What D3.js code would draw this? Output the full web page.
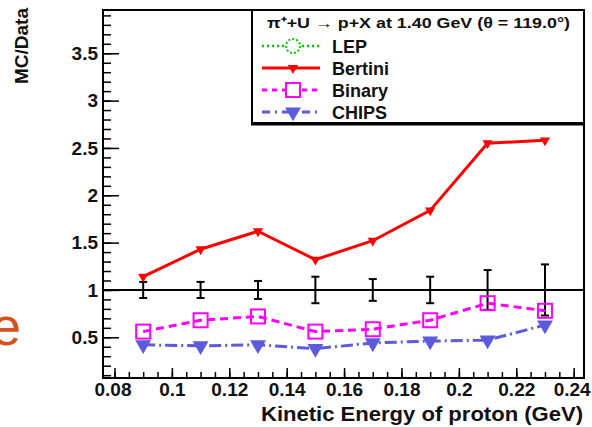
<!DOCTYPE html>
<html>
<head>
<meta charset="utf-8">
<script src="https://cdn.jsdelivr.net/npm/d3@7"></script>
<style>
  body { margin: 0; background: #fff; }
  svg { display: block; }
  text { font-family: "Liberation Sans", Arial, sans-serif; }
</style>
</head>
<body>
<div id="chart"></div>
<script>
// chart size
var width = 592,
    height = 427;

// data
var energy = [0.09, 0.11, 0.13, 0.15, 0.17, 0.19, 0.21, 0.23];
var bertini = [1.14, 1.43, 1.62, 1.32, 1.52, 1.84, 2.55, 2.58];
var binary = [0.56, 0.68, 0.72, 0.56, 0.585, 0.68, 0.86, 0.78];
var chips = [0.42, 0.41, 0.42, 0.38, 0.44, 0.46, 0.47, 0.63];
var dataErr = [0.085, 0.085, 0.095, 0.14, 0.115, 0.14, 0.21, 0.27];

var xTicks = [0.08, 0.10, 0.12, 0.14, 0.16, 0.18, 0.20, 0.22, 0.24];
var xTickLabels = ["0.08", "0.1", "0.12", "0.14", "0.16", "0.18", "0.2", "0.22", "0.24"];
var yTicks = [0.5, 1, 1.5, 2, 2.5, 3, 3.5];
var yTickLabels = ["0.5", "1", "1.5", "2", "2.5", "3", "3.5"];

var legendTitle = "\u03c0\u207a+U \u2192 p+X at 1.40 GeV (\u03b8 = 119.0\u00b0)";
var legendNames = ["LEP", "Bertini", "Binary", "CHIPS"];

var frame = {left: 103, right: 584, top: 10, bottom: 378};

var x = d3.scaleLinear().domain([0.076, 0.2436]).range([frame.left, frame.right]);
var y = d3.scaleLinear().domain([0.07, 3.957]).range([frame.bottom, frame.top]);

var svg = d3.select("#chart").append("svg")
    .attr("width", width)
    .attr("height", height);

// the cut-off slide letter on the left
svg.append("text")
    .attr("x", 21)
    .attr("y", 345)
    .attr("text-anchor", "end")
    .style("font-size", "54px")
    .style("fill", "#d4501c")
    .text("e");

// minor ticks
var xMinor = d3.range(0.08, 0.2436, 0.005).map(function(d) { return +d.toFixed(3); });
var yMinor = d3.range(0.1, 3.95, 0.1).map(function(d) { return +d.toFixed(2); });

svg.append("g")
    .attr("transform", "translate(0," + frame.bottom + ")")
    .call(d3.axisBottom(x).tickValues(xMinor).tickSize(-6).tickFormat(""))
    .call(function(g) { g.select(".domain").remove(); })
    .selectAll("line").attr("stroke-width", 1.5);

svg.append("g")
    .attr("transform", "translate(" + frame.left + ",0)")
    .call(d3.axisLeft(y).tickValues(yMinor).tickSize(-8).tickFormat(""))
    .call(function(g) { g.select(".domain").remove(); })
    .selectAll("line").attr("stroke-width", 1.5);

// major ticks + labels
var xAxis = svg.append("g")
    .attr("transform", "translate(0," + frame.bottom + ")")
    .call(d3.axisBottom(x).tickValues(xTicks).tickSize(-10).tickPadding(5)
      .tickFormat(function(d, i) { return xTickLabels[i]; }));
xAxis.select(".domain").remove();
xAxis.selectAll("line").attr("stroke-width", 1.5);
xAxis.selectAll("text")
    .style("font-size", "19px")
    .style("font-weight", "bold")
    .style("font-family", "'Liberation Sans', Arial, sans-serif")
    .attr("fill", "#111");
xAxis.selectAll(".tick").filter(function(d) { return d === 0.08; }).select("text").attr("dx", -2);
xAxis.selectAll(".tick").filter(function(d) { return d === 0.24; }).select("text").attr("dx", -2);

var yAxis = svg.append("g")
    .attr("transform", "translate(" + frame.left + ",0)")
    .call(d3.axisLeft(y).tickValues(yTicks).tickSize(-16).tickPadding(5)
      .tickFormat(function(d, i) { return yTickLabels[i]; }));
yAxis.select(".domain").remove();
yAxis.selectAll("line").attr("stroke-width", 1.5);
yAxis.selectAll("text")
    .style("font-size", "19px")
    .style("font-weight", "bold")
    .style("font-family", "'Liberation Sans', Arial, sans-serif")
    .attr("fill", "#111");

// frame
svg.append("rect")
    .attr("x", frame.left)
    .attr("y", frame.top)
    .attr("width", frame.right - frame.left)
    .attr("height", frame.bottom - frame.top)
    .attr("fill", "none")
    .attr("stroke", "#000")
    .attr("stroke-width", 2);

// axis titles
svg.append("text")
    .attr("transform", "translate(28,8) rotate(-90)")
    .attr("text-anchor", "end")
    .style("font-size", "19px")
    .style("font-weight", "bold")
    .attr("fill", "#111")
    .text("MC/Data");

svg.append("text")
    .attr("x", 583)
    .attr("y", 421)
    .attr("text-anchor", "end")
    .attr("textLength", 322)
    .attr("lengthAdjust", "spacingAndGlyphs")
    .style("font-size", "21px")
    .style("font-weight", "bold")
    .attr("fill", "#111")
    .text("Kinetic Energy of proton (GeV)");

// reference line at 1
svg.append("line")
    .attr("x1", frame.left).attr("x2", frame.right)
    .attr("y1", y(1)).attr("y2", y(1))
    .attr("stroke", "#000")
    .attr("stroke-width", 2);

// data error bars
var eb = svg.append("g").attr("stroke", "#000").attr("stroke-width", 2);
energy.forEach(function(e, i) {
  var cx = x(e);
  eb.append("line").attr("x1", cx).attr("x2", cx)
      .attr("y1", y(1 + dataErr[i])).attr("y2", y(1 - dataErr[i]));
  eb.append("line").attr("x1", cx - 4).attr("x2", cx + 4)
      .attr("y1", y(1 + dataErr[i])).attr("y2", y(1 + dataErr[i]));
  eb.append("line").attr("x1", cx - 4).attr("x2", cx + 4)
      .attr("y1", y(1 - dataErr[i])).attr("y2", y(1 - dataErr[i]));
});

var line = d3.line()
    .x(function(d) { return x(d[0]); })
    .y(function(d) { return y(d[1]); });

function pairs(vals) {
  return energy.map(function(e, i) { return [e, vals[i]]; });
}

var triDown = d3.symbol().type(d3.symbolTriangle);

// CHIPS
svg.append("path")
    .attr("d", line(pairs(chips)))
    .attr("fill", "none")
    .attr("stroke", "#5b5bdc")
    .attr("stroke-width", 3)
    .attr("stroke-dasharray", "12,4,2,4");
svg.selectAll(".chips")
    .data(pairs(chips)).enter().append("path")
    .attr("class", "chips")
    .attr("d", triDown.size(110)())
    .attr("transform", function(d) { return "translate(" + x(d[0]) + "," + y(d[1]) + ") rotate(180)"; })
    .attr("fill", "#5b5bdc");

// Binary
svg.append("path")
    .attr("d", line(pairs(binary)))
    .attr("fill", "none")
    .attr("stroke", "#ff00ff")
    .attr("stroke-width", 3)
    .attr("stroke-dasharray", "8,5");
svg.selectAll(".binary")
    .data(pairs(binary)).enter().append("rect")
    .attr("class", "binary")
    .attr("x", function(d) { return x(d[0]) - 7; })
    .attr("y", function(d) { return y(d[1]) - 7; })
    .attr("width", 14)
    .attr("height", 14)
    .attr("fill", "#fff")
    .attr("fill-opacity", 0)
    .attr("stroke", "#ff00ff")
    .attr("stroke-width", 2);

// Bertini
svg.append("path")
    .attr("d", line(pairs(bertini)))
    .attr("fill", "none")
    .attr("stroke", "#ff0000")
    .attr("stroke-width", 3);
svg.selectAll(".bertini")
    .data(pairs(bertini)).enter().append("path")
    .attr("class", "bertini")
    .attr("d", triDown.size(45)())
    .attr("transform", function(d) { return "translate(" + x(d[0]) + "," + y(d[1]) + ") rotate(180)"; })
    .attr("fill", "#ff0000");

// legend
var lg = svg.append("g");
lg.append("rect")
    .attr("x", 252).attr("y", 10)
    .attr("width", 332).attr("height", 113)
    .attr("fill", "#fff")
    .attr("stroke", "#000")
    .attr("stroke-width", 2);
lg.append("line")
    .attr("x1", 251).attr("x2", 584)
    .attr("y1", 124.5).attr("y2", 124.5)
    .attr("stroke", "#000").attr("stroke-width", 2);

lg.append("text")
    .attr("x", 267)
    .attr("y", 28)
    .attr("textLength", 303)
    .attr("lengthAdjust", "spacingAndGlyphs")
    .style("font-size", "15px")
    .style("font-weight", "bold")
    .attr("fill", "#111")
    .text(legendTitle);

var rowY = [46, 68, 90, 112];
var lx0 = 262, lx1 = 320, lmx = 293;

// LEP
lg.append("line").attr("x1", lx0).attr("x2", lx1).attr("y1", rowY[0]).attr("y2", rowY[0])
    .attr("stroke", "#00cc00").attr("stroke-width", 2.5).attr("stroke-dasharray", "2,3");
lg.append("circle").attr("cx", lmx).attr("cy", rowY[0]).attr("r", 7)
    .attr("fill", "#fff").attr("stroke", "#00cc00").attr("stroke-width", 2).attr("stroke-dasharray", "2,2");
// Bertini
lg.append("line").attr("x1", lx0).attr("x2", lx1).attr("y1", rowY[1]).attr("y2", rowY[1])
    .attr("stroke", "#ff0000").attr("stroke-width", 3);
lg.append("path").attr("d", triDown.size(45)())
    .attr("transform", "translate(" + lmx + "," + rowY[1] + ") rotate(180)")
    .attr("fill", "#ff0000");
// Binary
lg.append("line").attr("x1", lx0).attr("x2", lx1).attr("y1", rowY[2]).attr("y2", rowY[2])
    .attr("stroke", "#ff00ff").attr("stroke-width", 3).attr("stroke-dasharray", "5,5");
lg.append("rect").attr("x", lmx - 7).attr("y", rowY[2] - 7).attr("width", 14).attr("height", 14)
    .attr("fill", "#fff").attr("stroke", "#ff00ff").attr("stroke-width", 2);
// CHIPS
lg.append("line").attr("x1", lx0).attr("x2", lx1).attr("y1", rowY[3]).attr("y2", rowY[3])
    .attr("stroke", "#5b5bdc").attr("stroke-width", 3).attr("stroke-dasharray", "8,5,2,5");
lg.append("path").attr("d", triDown.size(110)())
    .attr("transform", "translate(" + lmx + "," + rowY[3] + ") rotate(180)")
    .attr("fill", "#5b5bdc");

lg.selectAll(".lname")
    .data(legendNames).enter().append("text")
    .attr("class", "lname")
    .attr("x", 332)
    .attr("y", function(d, i) { return rowY[i] + 7; })
    .style("font-size", "18px")
    .style("font-weight", "bold")
    .attr("fill", "#111")
    .text(function(d) { return d; });
</script>
</body>
</html>
